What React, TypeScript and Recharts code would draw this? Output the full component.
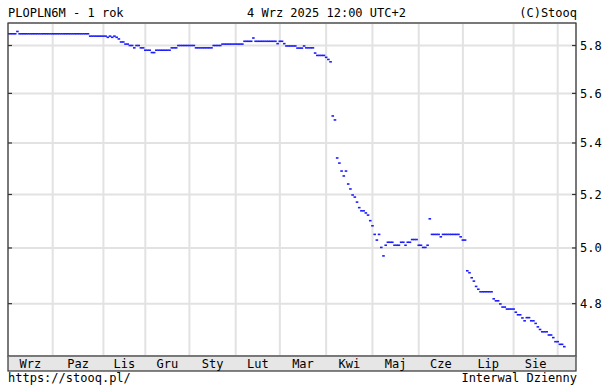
import React from "react";
import { ComposedChart, Scatter, XAxis, YAxis, CartesianGrid } from "recharts";

// daily fixings, stored as runs of equal values (value, number of sessions)
const runValues = [
  5.85, 5.86, 5.85, 5.84, 5.835, 5.84, 5.835, 5.84, 5.835, 5.828,
  5.815, 5.806, 5.8, 5.79, 5.8, 5.79, 5.78, 5.77, 5.78, 5.79,
  5.8, 5.79, 5.8, 5.806, 5.818, 5.832, 5.818, 5.808, 5.818, 5.808,
  5.798, 5.789, 5.798, 5.79, 5.768, 5.758, 5.75, 5.741, 5.731, 5.508,
  5.492, 5.341, 5.321, 5.29, 5.271, 5.29, 5.24, 5.221, 5.198, 5.19,
  5.171, 5.15, 5.138, 5.13, 5.122, 5.101, 5.082, 5.05, 5.029, 5.05,
  5.002, 4.971, 5.01, 5.021, 5.01, 5.021, 5.01, 5.021, 5.031, 5.01,
  5.002, 5.01, 5.108, 5.05, 5.041, 5.05, 5.041, 5.029, 4.917, 4.91,
  4.892, 4.88, 4.861, 4.851, 4.842, 4.817, 4.81, 4.799, 4.788, 4.781,
  4.77, 4.761, 4.75, 4.74, 4.751, 4.74, 4.731, 4.719, 4.71, 4.702,
  4.691, 4.682, 4.668, 4.659, 4.651,
];
const runLengths = [
  4, 1, 32, 8, 1, 1, 1, 1, 1, 1,
  2, 2, 2, 1, 2, 2, 3, 2, 7, 3,
  8, 8, 4, 10, 4, 1, 10, 1, 2, 1,
  5, 3, 1, 4, 1, 4, 1, 1, 1, 1,
  1, 1, 1, 1, 1, 1, 1, 1, 1, 1,
  1, 1, 2, 1, 1, 1, 1, 1, 1, 1,
  1, 1, 1, 3, 3, 2, 1, 2, 3, 2,
  2, 1, 1, 4, 1, 8, 1, 2, 1, 1,
  1, 1, 1, 1, 6, 1, 2, 1, 2, 4,
  1, 2, 1, 1, 2, 2, 1, 1, 1, 3,
  2, 1, 2, 2, 1,
];

// session index where each month begins (Paz .. Wrz 2025)
const monthStarts = [20, 43, 62, 82, 103, 123, 144, 165, 186, 206, 229, 249];
const monthLabels = ["Wrz", "Paz", "Lis", "Gru", "Sty", "Lut", "Mar", "Kwi", "Maj", "Cze", "Lip", "Sie"];
const yTicks = [4.8, 5.0, 5.2, 5.4, 5.6, 5.8];

const X_DOMAIN: [number, number] = [-0.27, 257.3];
const Y_DOMAIN: [number, number] = [4.6193, 5.8965];

const W = 605;
const H = 387;
const PLOT_LEFT = 8;
const PLOT_RIGHT = 576;
const PLOT_TOP = 23;
const PLOT_BOTTOM = 356;
const BAND_H = 15;
const FONT = "'DejaVu Sans Mono', monospace";
const FRAME = "#333";

const data: { x: number; v: number }[] = [];
let day = 0;
runValues.forEach((v, i) => {
  for (let n = 0; n < runLengths[i]; n++) {
    data.push({ x: day, v });
    day++;
  }
});

const monthCenters = monthStarts.map((s, i) => {
  const prev = i === 0 ? X_DOMAIN[0] : monthStarts[i - 1];
  return (prev + s) / 2;
});

const renderDash = (props: any) => {
  const { cx, cy } = props;
  if (cx == null || cy == null) return <g />;
  return (
    <line x1={cx - 1.3} x2={cx + 1.3} y1={cy} y2={cy} stroke="#1c1cff" strokeWidth={1.6} />
  );
};

const renderNothing = () => <g />;

const renderFrameTick = (props: any) => {
  const { x } = props;
  return (
    <g>
      <line x1={x} x2={x} y1={PLOT_TOP} y2={PLOT_TOP + 4} stroke={FRAME} strokeWidth={1.2} />
      <line x1={x} x2={x} y1={PLOT_BOTTOM - 4} y2={PLOT_BOTTOM} stroke={FRAME} strokeWidth={1.2} />
    </g>
  );
};

const renderMonthTick = (props: any) => {
  const { x, payload } = props;
  const idx = monthCenters.findIndex((c) => Math.abs(c - payload.value) < 0.01);
  return (
    <text x={x} y={PLOT_BOTTOM + 12} textAnchor="middle" fontFamily={FONT} fontSize={12} fill="#000">
      {monthLabels[idx]}
    </text>
  );
};

const renderYTick = (props: any) => {
  const { y, payload } = props;
  return (
    <g>
      <line x1={PLOT_LEFT} x2={PLOT_LEFT + 4} y1={y} y2={y} stroke={FRAME} strokeWidth={1.2} />
      <line x1={PLOT_RIGHT - 4} x2={PLOT_RIGHT} y1={y} y2={y} stroke={FRAME} strokeWidth={1.2} />
      <text x={PLOT_RIGHT + 4} y={y + 4.5} fontFamily={FONT} fontSize={12} fill="#000">
        {payload.value.toFixed(1)}
      </text>
    </g>
  );
};

export default function App() {
  return (
    <div style={{ position: "absolute", left: 0, top: 0, width: W, height: H, background: "#fff" }}>
      {/* month band under the chart */}
      <svg width={W} height={H} style={{ position: "absolute", left: 0, top: 0 }}>
        <rect
          x={PLOT_LEFT}
          y={PLOT_BOTTOM}
          width={PLOT_RIGHT - PLOT_LEFT}
          height={BAND_H}
          fill="#e6e6e6"
          stroke={FRAME}
          strokeWidth={1.2}
        />
      </svg>
      <div style={{ position: "absolute", left: 0, top: 0 }}>
        <ComposedChart
          width={W}
          height={H}
          margin={{ top: PLOT_TOP, right: 0, left: PLOT_LEFT, bottom: H - PLOT_BOTTOM - BAND_H }}
        >
          <CartesianGrid xAxisId="days" stroke="#e2e2e2" strokeWidth={2} />
          <XAxis
            xAxisId="days"
            dataKey="x"
            type="number"
            domain={X_DOMAIN}
            allowDataOverflow
            ticks={monthStarts}
            tick={renderFrameTick}
            tickLine={false}
            axisLine={false}
            height={0}
            interval={0}
          />
          <XAxis
            xAxisId="labels"
            dataKey="x"
            type="number"
            domain={X_DOMAIN}
            allowDataOverflow
            ticks={monthCenters}
            tick={renderMonthTick}
            tickLine={false}
            axisLine={false}
            height={BAND_H}
            interval={0}
          />
          <YAxis
            dataKey="v"
            orientation="right"
            scale="log"
            domain={Y_DOMAIN}
            allowDataOverflow
            ticks={yTicks}
            tick={renderYTick}
            tickLine={false}
            axisLine={false}
            width={W - PLOT_RIGHT}
            interval={0}
          />
          <Scatter
            xAxisId="labels"
            data={data}
            dataKey="v"
            shape={renderNothing}
            isAnimationActive={false}
          />
          <Scatter
            xAxisId="days"
            data={data}
            dataKey="v"
            shape={renderDash}
            isAnimationActive={false}
          />
        </ComposedChart>
      </div>
      {/* frame and captions */}
      <svg width={W} height={H} style={{ position: "absolute", left: 0, top: 0, pointerEvents: "none" }}>
        <rect
          x={PLOT_LEFT}
          y={PLOT_TOP}
          width={PLOT_RIGHT - PLOT_LEFT}
          height={PLOT_BOTTOM - PLOT_TOP}
          fill="none"
          stroke={FRAME}
          strokeWidth={1.2}
        />
        <text x={8} y={17} fontFamily={FONT} fontSize={12} fill="#000">PLOPLN6M - 1 rok</text>
        <text x={247} y={17} fontFamily={FONT} fontSize={12} fill="#000">4 Wrz 2025 12:00 UTC+2</text>
        <text x={577} y={17} textAnchor="end" fontFamily={FONT} fontSize={12} fill="#000">(C)Stooq</text>
        <text x={8} y={382} fontFamily={FONT} fontSize={12} fill="#000">https://stooq.pl/</text>
        <text x={577} y={382} textAnchor="end" fontFamily={FONT} fontSize={12} fill="#000">Interwal Dzienny</text>
      </svg>
    </div>
  );
}
